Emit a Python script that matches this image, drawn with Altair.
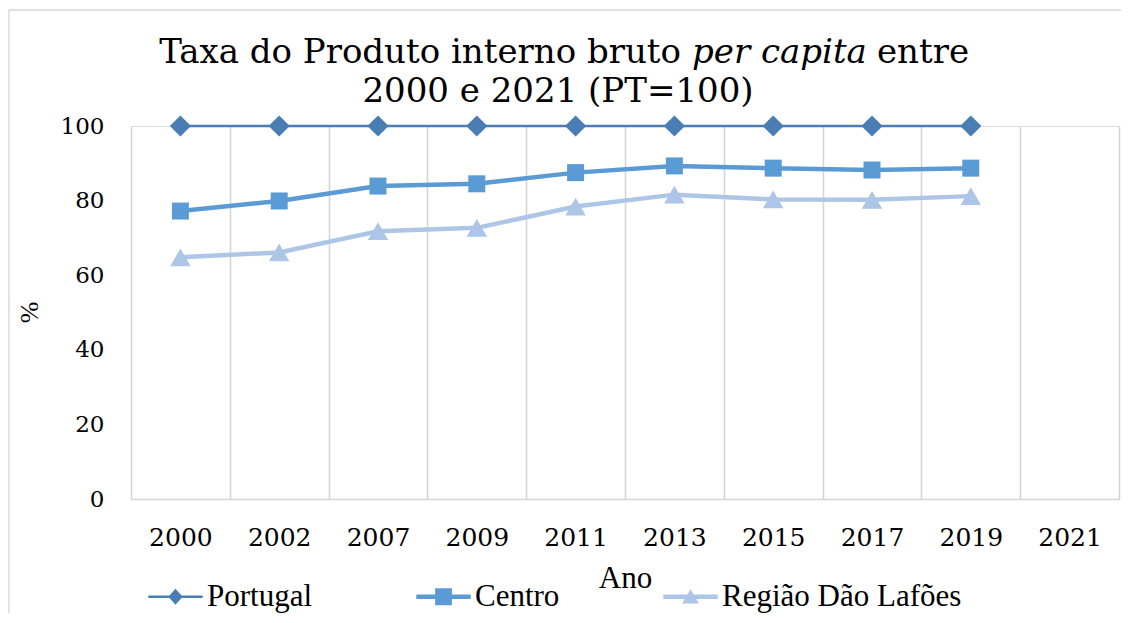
import altair as alt
import pandas as pd

# ---------------- data ----------------
YEARS = ["2000", "2002", "2007", "2009", "2011", "2013", "2015", "2017", "2019", "2021"]
DATA_YEARS = ["2000", "2002", "2007", "2009", "2011", "2013", "2015", "2017", "2019"]
SERIES = ["Portugal", "Centro", "Região Dão Lafões"]
PORTUGAL = [100, 100, 100, 100, 100, 100, 100, 100, 100]
CENTRO = [77.2, 79.9, 83.9, 84.5, 87.5, 89.3, 88.7, 88.2, 88.7]
DAO_LAFOES = [64.8, 66.1, 71.8, 72.7, 78.4, 81.6, 80.3, 80.2, 81.2]
Y_TICKS = [0, 20, 40, 60, 80, 100]

TITLE_PART1 = "Taxa do Produto interno bruto"
TITLE_ITALIC = "per capita"
TITLE_PART3 = "entre"
TITLE_LINE2 = "2000 e 2021 (PT=100)"
X_TITLE = "Ano"
Y_TITLE = "%"

# ---------------- styles ----------------
COLORS = ["#4a7db4", "#5b9bd5", "#adc6e7"]
LINE_WIDTHS = [2.5, 4.5, 4.5]
MARKERS = [("diamond", 450), ("square", 289), ("triangle-up", 420)]
GRID = "#d4d4d4"
SERIF = "DejaVu Serif"
TIMES = "Liberation Serif"

# legend symbols: line segment + marker (unit box -1..1)
LEGEND_PATHS = [
    "M-3.4,-0.17L3.4,-0.17L3.4,0.17L-3.4,0.17Z M0,-1L0.9,0L0,1L-0.9,0Z",
    "M-3.4,-0.27L3.4,-0.27L3.4,0.27L-3.4,0.27Z M-1.05,-1.05L1.05,-1.05L1.05,1.05L-1.05,1.05Z",
    "M-3.4,-0.27L3.4,-0.27L3.4,0.27L-3.4,0.27Z M0,-0.95L1.05,0.85L-1.05,0.85Z",
]

rows = []
for name, vals in zip(SERIES, [PORTUGAL, CENTRO, DAO_LAFOES]):
    for yr, v in zip(DATA_YEARS, vals):
        rows.append({"year": yr, "value": v, "series": name})
df = pd.DataFrame(rows)

W, H = 988, 373

x_enc = alt.X(
    "year:O",
    scale=alt.Scale(type="band", domain=YEARS, paddingInner=0, paddingOuter=0),
    title=X_TITLE,
    axis=alt.Axis(
        labelAngle=0, labelFont=SERIF, labelFontSize=25, labelColor="black",
        labelPadding=38, labelBaseline="middle",
        ticks=False, tickBand="extent",
        grid=True, gridColor=GRID, gridWidth=1.5,
        domainColor=GRID, domainWidth=1.5,
        titleFont=TIMES, titleFontSize=31, titleFontWeight="normal",
        titleColor="black", titleY=88, titleBaseline="alphabetic",
    ),
)
y_enc = alt.Y(
    "value:Q",
    scale=alt.Scale(domain=[0, 100], nice=False),
    title=Y_TITLE,
    axis=alt.Axis(
        values=Y_TICKS, grid=False, domain=False, ticks=False,
        labelFont=SERIF, labelFontSize=23, labelColor="black", labelPadding=27,
        titleFont=TIMES, titleFontSize=26, titleFontWeight="normal",
        titleColor="black", titleX=-102, titleY=186, titleAngle=270,
        titleBaseline="middle", titleAlign="center",
    ),
)

base = alt.Chart(df)

series_layers = []
for i, name in enumerate(SERIES):
    sub = base.transform_filter(alt.datum.series == name)
    enc_x = x_enc if i == 0 else alt.X("year:O")
    enc_y = y_enc if i == 0 else alt.Y("value:Q")
    series_layers.append(
        sub.mark_line(color=COLORS[i], strokeWidth=LINE_WIDTHS[i]).encode(x=enc_x, y=enc_y)
    )
for i, name in enumerate(SERIES):
    shp, sz = MARKERS[i]
    series_layers.append(
        base.transform_filter(alt.datum.series == name)
        .mark_point(shape=shp, size=sz, filled=True, opacity=1, strokeWidth=0, color=COLORS[i])
        .encode(x="year:O", y="value:Q")
    )


def make_legend():
    return alt.Legend(orient="none", legendX=29, legendY=455,
                      direction="horizontal", padding=0,
                      symbolSize=256, symbolStrokeWidth=0, symbolOpacity=1,
                      labelFont=TIMES, labelFontSize=31, labelColor="black",
                      labelOffset=16, labelLimit=500, columnPadding=103)


# invisible marks that only carry the legend
legend_layer = base.mark_point(filled=True, opacity=0, size=1).encode(
    x="year:O", y="value:Q",
    color=alt.Color("series:N", scale=alt.Scale(domain=SERIES, range=COLORS),
                    title=None, legend=make_legend()),
    shape=alt.Shape("series:N", scale=alt.Scale(domain=SERIES, range=LEGEND_PATHS),
                    title=None, legend=make_legend()),
)

# title pieces (positions relative to plot origin)
FS = 34
t1 = alt.Chart(pd.DataFrame({"t": [TITLE_PART1]})).mark_text(
    font=SERIF, fontSize=FS, align="right", baseline="alphabetic", color="black"
).encode(text="t:N", x=alt.value(550), y=alt.value(-63))
t2 = alt.Chart(pd.DataFrame({"t": [TITLE_ITALIC]})).mark_text(
    font=SERIF, fontSize=FS, fontStyle="italic", align="left", baseline="alphabetic", color="black"
).encode(text="t:N", x=alt.value(561), y=alt.value(-63))
t3 = alt.Chart(pd.DataFrame({"t": [TITLE_PART3]})).mark_text(
    font=SERIF, fontSize=FS, align="left", baseline="alphabetic", color="black"
).encode(text="t:N", x=alt.value(746), y=alt.value(-63))
t4 = alt.Chart(pd.DataFrame({"t": [TITLE_LINE2]})).mark_text(
    font=SERIF, fontSize=FS, align="center", baseline="alphabetic", color="black"
).encode(text="t:N", x=alt.value(427), y=alt.value(-24))

one = pd.DataFrame({"k": [0]})
border_left = alt.Chart(one).mark_rule(color=GRID, strokeWidth=1.3).encode(
    x=alt.value(-122), y=alt.value(-116), y2=alt.value(490))
border_top = alt.Chart(one).mark_rule(color=GRID, strokeWidth=1.3).encode(
    x=alt.value(-122), x2=alt.value(990), y=alt.value(-116))

chart = alt.layer(
    *series_layers, legend_layer, t1, t2, t3, t4, border_left, border_top
).properties(
    width=W, height=H,
    autosize=alt.AutoSizeParams(type="none"),
    padding={"left": 123, "top": 118, "right": 2, "bottom": 114},
).configure_view(strokeWidth=0).configure(background="white")

chart.save("out.html", embed_options={"renderer": "svg", "actions": False})
